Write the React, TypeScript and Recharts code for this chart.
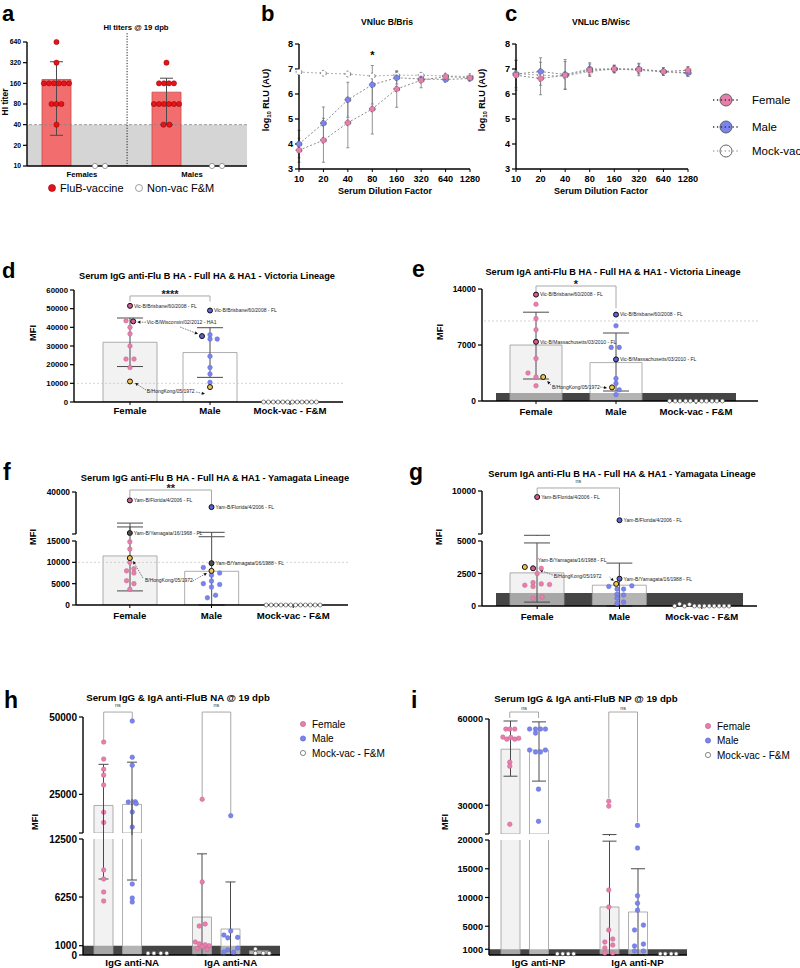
import React from 'react';
import {
  ComposedChart, Bar, Line, Scatter, XAxis, YAxis, ErrorBar,
  ReferenceLine, ReferenceArea, ReferenceDot, Cell,
} from 'recharts';

const FONT = '"Liberation Sans", Arial, Helvetica, sans-serif';
const PINK = '#e67fab';
const PINK_EDGE = '#c8628f';
const PINK_HI = '#d65a95';
const BLUE = '#7b84ec';
const BLUE_EDGE = '#5f68d6';
const BLUE_HI = '#5a62d6';
const YELLOW = '#f4c54a';
const DARK = '#505050';
const RED = '#e5141b';

// ---------------- panel a: HI titers ----------------
const aGroups = ['Females', 'Males'];
const aMeans = [182, 119];
const aErr = [[154, 148], [79, 71]];
const aFemaleTiters = [640, 320, 160, 160, 160, 160, 160, 160, 80, 80, 80, 40];
const aFemaleSpread = [0, 0, -0.114, -0.068, -0.023, 0.023, 0.068, 0.114, -0.045, 0, 0.045, 0];
const aMaleTiters = [320, 160, 160, 160, 160, 80, 80, 80, 80, 80, 80, 40, 40];
const aMaleSpread = [0, -0.068, -0.023, 0.023, 0.068, -0.114, -0.068, -0.023, 0.023, 0.068, 0.114, -0.027, 0.027];
const aNonVacTiters = [10, 10, 10, 10];
const aNonVacX = [0.618, 0.709, 1.682, 1.773];
const aTicks = [10, 20, 40, 80, 160, 320, 640];

// ---------------- panels b, c: neutralisation ----------------
const dilutions = ['10', '20', '40', '80', '160', '320', '640', '1280'];
const bFemale = [3.75, 4.15, 4.85, 5.4, 6.2, 6.55, 6.7, 6.65];
const bFemaleSD = [0.48, 0.88, 1.0, 1.0, 0.73, 0.3, 0.08, 0.08];
const bMale = [4.0, 4.83, 5.77, 6.37, 6.65, 6.6, 6.58, 6.62];
const bMaleSD = [0.55, 0.65, 0.7, 0.77, 0.25, 0.12, 0.06, 0.06];
const bMock = [6.88, 6.83, 6.8, 6.72, 6.75, 6.75, 6.72, 6.7];
const bMockSD = [0.04, 0.04, 0.04, 0.05, 0.1, 0.05, 0.05, 0.05];
const cFemale = [6.75, 6.62, 6.75, 6.95, 7.0, 6.98, 6.9, 6.95];
const cFemaleSD = [0.6, 0.65, 0.55, 0.25, 0.15, 0.25, 0.15, 0.15];
const cMale = [6.8, 6.9, 6.78, 7.0, 7.0, 7.0, 6.9, 6.85];
const cMaleSD = [0.55, 0.55, 0.6, 0.25, 0.15, 0.2, 0.15, 0.15];
const cMock = [6.82, 6.75, 6.72, 6.9, 7.0, 6.95, 6.88, 6.83];
const cMockSD = [0.1, 0.1, 0.1, 0.1, 0.1, 0.1, 0.1, 0.1];

// ---------------- panels d-g: HA MFI ----------------
const mfiCats = ['Female', 'Male', 'Mock-vac - F&M'];
const mock12 = [0, 0, 0, 0, 0, 0, 0, 0, 0, 0, 0, 0];
const mock12Spread = [-0.33, -0.27, -0.21, -0.15, -0.09, -0.03, 0.03, 0.09, 0.15, 0.21, 0.27, 0.33];
const mock11 = [0, 0, 0, 0, 0, 0, 0, 0, 0, 0, 0];
const mock11Spread = [-0.33, -0.26, -0.2, -0.13, -0.07, 0, 0.07, 0.13, 0.2, 0.26, 0.33];

const dMeans = [32000, 26500, null];
const dErr = [[13000, 13000], [13300, 13300], null];
const dFemale = [43500, 40000, 36500, 30000, 23000, 23000, 18500];
const dFemaleSpread = [-0.05, 0, 0, 0, -0.05, 0.05, 0];
const dMale = [36000, 33700, 33700, 24500, 18500, 15000, 10500];
const dMaleSpread = [0, 0, 0.09, 0, 0, 0, 0];
const dFemaleMarked = [51500, 43200];
const dFemaleMarkedSpread = [0, 0.04];
const dMaleMarked = [49000, 35300];
const dMaleMarkedSpread = [0, -0.1];
const dMarkedLabels = ['Vic-B/Brisbane/60/2008 - FL', ''];
const dHongKong = [11000, 8000];

const eMeans = [7000, 4800, null];
const eErr = [[4250, 4100], [3550, 3700], null];
const eFemale = [12100, 10300, 8900, 5300, 3500, 3000, 1900];
const eFemaleSpread = [0, 0, 0, 0, -0.1, 0, 0];
const eMale = [9400, 6700, 6700, 2800, 2200, 1400, 800];
const eMaleSpread = [0, -0.06, 0.04, 0, 0, 0.04, 0];
const eFemaleMarked = [13300, 7400];
const eMaleMarked = [10800, 5200];
const eMarkedLabels = ['Vic-B/Brisbane/60/2008 - FL', 'Vic-B/Massachusetts/03/2010 - FL'];
const eHongKong = [3000, 1700];
const eHongKongSpread = [0.09, -0.05];

const fMeans = [11500, 7900, null];
const fErr = [[8200, 7700], [7900, 8100], null];
const fFemale = [14800, 13100, 10000, 8500, 8000, 7500, 5700, 5000, 3700];
const fFemaleSpread = [0, 0, 0, 0.05, -0.04, 0.05, -0.04, 0.05, 0];
const fMale = [8800, 7500, 7000, 5600, 5000, 4800, 4200, 2300, 1700];
const fMaleSpread = [-0.1, 0.1, 0, 0, -0.1, 0.1, 0, 0.05, -0.05];
const fFlorida = [35000, 31000];
const fYamagata = [15600, 9800];
const fFloridaLabel = 'Yam-B/Florida/4/2006 - FL';
const fYamagataLabels = ['Yam-B/Yamagata/16/1968 - FL', 'Yam-B/Yamagata/16/1988 - FL'];
const fHongKong = [11000, 8000];

const gMeans = [2550, 1600, null];
const gErr = [[2250, 2300], [1600, 1700], null];
const gFemale = [2900, 2500, 1800, 1700, 1650, 1600, 1500, 700, 600];
const gFemaleSpread = [0.05, 0, -0.05, 0.05, 0.15, -0.15, -0.05, 0.06, -0.05];
const gMale = [1500, 1550, 1300, 1300, 900, 850, 600, 300, 200];
const gMaleSpread = [-0.13, 0.15, -0.03, 0.05, -0.03, 0.05, -0.03, 0.05, -0.03];
const gFlorida = [9300, 6600];
const gYamagata = [2900, 2100];
const gYamagataSpread = [-0.05, 0];
const gHongKong = [3000, 1700];
const gHongKongSpread = [-0.15, -0.04];
const gMock = [0, 150, 0, 120, 0, 0, 0, 0, 0, 0, 0, 0];

// ---------------- panels h, i: NA / NP ----------------
const hCats = ['IgG anti-NA', 'IgA anti-NA'];
const hFemaleMeans = [21400, 4090];
const hFemaleErr = [[13210, 13300], [4090, 6810]];
const hMaleMeans = [21750, 2800];
const hMaleErr = [[13670, 13650], [2800, 5070]];
const hMockMeans = [null, 450];
const hIgGFemale = [41900, 36400, 33100, 31200, 28000, 19200, 15900, 9160, 8190, 6790, 5820];
const hIgGMale = [48700, 37000, 34400, 22500, 22600, 22000, 19300, 14400, 7650, 6140, 5710];
const hIgGMaleSpread = [0, 0, 0, -0.04, 0.03, 0.04, 0, 0, 0, 0, 0];
const hIgAFemale = [23400, 7870, 3340, 3120, 1400, 1200, 1100, 1000, 900, 700, 600];
const hIgAFemaleSpread = [0, 0, 0.03, -0.03, -0.07, -0.03, 0.03, 0.07, 0, -0.05, 0.05];
const hIgAMale = [18100, 2590, 2150, 1900, 1850, 750, 540, 320, 300];
const hIgAMaleSpread = [0, 0, -0.07, 0.07, -0.03, 0.07, -0.03, -0.07, 0.03];
const hMockIgG = [200, 200, 200, 200];
const hMockIgGSpread = [-0.13, -0.07, 0, 0.06];
const hMockIgA = [650, 200, 200, 200];
const hMockIgASpread = [-0.04, -0.04, 0.04, 0.1];

const iCats = ['IgG anti-NP', 'IgA anti-NP'];
const iFemaleMeans = [49500, 8350];
const iFemaleErr = [[9400, 9800], [8350, 11450]];
const iMaleMeans = [49200, 7480];
const iMaleErr = [[10800, 9800], [7480, 7520]];
const iIgGFemale = [56500, 56500, 56500, 53700, 53000, 53600, 53000, 53300, 45000, 43600, 23400];
const iIgGFemaleSpread = [-0.04, 0, 0.05, -0.07, -0.03, 0.01, 0.05, 0.09, 0, 0, 0];
const iIgGMale = [56500, 56500, 56500, 56500, 55100, 49200, 48500, 48500, 49200, 35600, 24400];
const iIgGMaleSpread = [-0.09, -0.03, 0.02, 0.07, -0.03, -0.09, -0.03, 0.02, 0.07, 0, 0];
const iIgAFemale = [31400, 29700, 11300, 8350, 4350, 2780, 2260, 1740, 1220, 350, 350];
const iIgAFemaleSpread = [0, 0, 0, 0, 0, 0.04, -0.04, 0.04, -0.04, -0.04, 0.04];
const iIgAMale = [23000, 18600, 10300, 9000, 7800, 5200, 4350, 1900, 1570, 700, 700];
const iIgAMaleSpread = [0, 0, 0, 0, 0, 0.06, -0.03, 0.06, -0.03, -0.03, 0.06];
const iMock = [200, 200, 200, 200];
const iMockIgGSpread = [-0.1, -0.045, 0.01, 0.065];
const iMockIgASpread = [-0.06, -0.01, 0.05, 0.1];

// ---------------- annotations (data coordinates) ----------------
type LineDef = { p: number[]; stroke: string; dash?: string; w?: number; head?: boolean };
type Note = { x: number; y: number; text: string; size: number; bold?: boolean; anchor?: 'start' | 'middle' | 'end'; fill?: string };

const BR = '#a8a8a8';
const AR = '#333';
const dLines: LineDef[] = [
  { p: [0.5, 56800, 1.5, 56800], stroke: BR },
  { p: [0.5, 56800, 0.5, 53800], stroke: BR },
  { p: [1.5, 56800, 1.5, 53800], stroke: BR },
  { p: [0.7, 42700, 0.59, 42860], stroke: AR, head: true },
  { p: [1.125, 40180, 1.35, 36430], stroke: AR, head: true },
  { p: [0.7, 6430, 0.5625, 10180], stroke: AR, head: true },
  { p: [1.325, 5360, 1.4375, 4290], stroke: AR, head: true },
];
const dNotes: Note[] = [
  { x: 1.0, y: 55900, text: '****', size: 11, bold: true, anchor: 'middle' },
  { x: 0.71, y: 41800, text: 'Vic-B/Wisconsin/02/2012 - HA1', size: 5 },
  { x: 0.71, y: 4820, text: 'B/HongKong/05/1972', size: 5 },
];
const eLines: LineDef[] = [
  { p: [0.5, 14375, 1.5, 14375], stroke: BR },
  { p: [0.5, 14375, 0.5, 13600], stroke: BR },
  { p: [1.5, 14375, 1.5, 11600], stroke: BR },
  { p: [0.6875, 2000, 0.64, 2500], stroke: AR, head: true },
  { p: [1.3, 1750, 1.39, 1640], stroke: AR, head: true },
];
const eNotes: Note[] = [
  { x: 1.0, y: 14175, text: '*', size: 11, bold: true, anchor: 'middle' },
  { x: 0.7, y: 1500, text: 'B/HongKong/05/1972', size: 5 },
];
const fLines: LineDef[] = [
  { p: [0.5, 41190, 1.5, 41190], stroke: BR },
  { p: [0.5, 41190, 0.5, 37000], stroke: BR },
  { p: [1.5, 41190, 1.5, 32260], stroke: BR },
  { p: [0.66, 6330, 0.54, 10310], stroke: AR, head: true },
  { p: [1.27, 5630, 1.445, 7500], stroke: AR, head: true },
];
const fNotes: Note[] = [
  { x: 1.0, y: 40240, text: '**', size: 11, bold: true, anchor: 'middle' },
  { x: 0.685, y: 5390, text: 'B/HongKong/05/1972', size: 5 },
];
const gLines: LineDef[] = [
  { p: [0.5, 10350, 1.5, 10350], stroke: BR },
  { p: [0.5, 10350, 0.5, 9650], stroke: BR },
  { p: [1.5, 10350, 1.5, 7100], stroke: BR },
  { p: [0.69, 2380, 0.53, 2770], stroke: AR, head: true },
  { p: [1.38, 2230, 1.43, 1920], stroke: AR, head: true },
];
const gNotes: Note[] = [
  { x: 1.0, y: 10930, text: 'ns', size: 5.5, anchor: 'middle', fill: '#333' },
  { x: 0.51, y: 3380, text: 'Yam-B/Yamagata/16/1988 - FL', size: 5 },
  { x: 0.7, y: 2150, text: 'B/HongKong/05/1972', size: 5 },
];
const hLines: LineDef[] = [
  { p: [0.21, 51600, 0.5, 51600], stroke: BR },
  { p: [0.21, 51600, 0.21, 42560], stroke: BR },
  { p: [0.5, 51600, 0.5, 49030], stroke: BR },
  { p: [1.21, 51600, 1.5, 51600], stroke: BR },
  { p: [1.21, 51600, 1.21, 24140], stroke: BR },
  { p: [1.5, 51600, 1.5, 18320], stroke: BR },
];
const hNotes: Note[] = [
  { x: 0.355, y: 53230, text: 'ns', size: 5.5, anchor: 'middle', fill: '#333' },
  { x: 1.355, y: 53230, text: 'ns', size: 5.5, anchor: 'middle', fill: '#333' },
];
const iLines: LineDef[] = [
  { p: [0.21, 62430, 0.5, 62430], stroke: BR },
  { p: [0.21, 62430, 0.21, 60350], stroke: BR },
  { p: [0.5, 62430, 0.5, 60350], stroke: BR },
  { p: [1.21, 62430, 1.5, 62430], stroke: BR },
  { p: [1.21, 62430, 1.21, 32520], stroke: BR },
  { p: [1.5, 62430, 1.5, 24180], stroke: BR },
];
const iNotes: Note[] = [
  { x: 0.355, y: 63250, text: 'ns', size: 5.5, anchor: 'middle', fill: '#333' },
  { x: 1.355, y: 63250, text: 'ns', size: 5.5, anchor: 'middle', fill: '#333' },
];

// ---------------- helpers ----------------
type Pt = { x: number; y: number; label?: string };
type DotSet = { pts: Pt[]; fill: string; stroke: string; r: number; sw?: number };
type Seg = { y0: number; y1: number; domain: [number, number]; ticks: number[]; blank?: number[] };
type BarDef = { key: string; errKey: string; fill: string | string[]; stroke: string; opacity?: number };
type Area = { y1: number; y2: number; fill: string };
type Dash = { y: number; stroke: string; dash: string };

const at = (vals: number[], center: number, spread?: number[], labels?: string[]): Pt[] =>
  vals.map((v, i) => ({ x: center + (spread ? spread[i] : 0), y: v, label: labels && labels[i] ? labels[i] : undefined }));

const dotShape = (d: DotSet) => (q: any) => {
  const cx = q.cx;
  const cy = q.cy;
  if (cx == null || cy == null || isNaN(cx) || isNaN(cy)) return <g />;
  const lab = q.payload ? q.payload.label : undefined;
  return (
    <g>
      <circle cx={cx} cy={cy} r={d.r} fill={d.fill} stroke={d.stroke} strokeWidth={d.sw ?? 0.6} />
      {lab ? (
        <text x={cx + d.r + 1.5} y={cy + 1.8} fontSize={5} fontFamily={FONT} fill="#222">{lab}</text>
      ) : null}
    </g>
  );
};

const arrowShape = (q: any) => {
  const { x1, y1, x2, y2 } = q;
  if ([x1, y1, x2, y2].some((v) => v == null || isNaN(v))) return <g />;
  const ang = Math.atan2(y2 - y1, x2 - x1);
  const L = 3.2;
  const W = 1.6;
  const bx = x2 - L * Math.cos(ang);
  const by = y2 - L * Math.sin(ang);
  const px = -Math.sin(ang) * W;
  const py = Math.cos(ang) * W;
  return (
    <g>
      <line x1={x1} y1={y1} x2={bx} y2={by} stroke={AR} strokeWidth={0.6} strokeDasharray="1.6 1" />
      <polygon points={`${x2},${y2} ${bx + px},${by + py} ${bx - px},${by - py}`} fill="#111" />
    </g>
  );
};

interface PanelProps {
  x0: number; x1: number; padL: number; padR: number; segs: Seg[]; cats: string[]; rows: any[];
  bars: BarDef[]; barSize: number; barGap?: number; dots: DotSet[]; areas?: Area[]; dashes?: Dash[];
  lines?: LineDef[]; notes?: Note[]; scale?: 'linear' | 'log'; tickFont: number; catFont: number;
  errW: number; catMargin: number; catTicks: boolean;
}

function MfiPanel(p: PanelProps) {
  const n = p.cats.length;
  const segOf = (v: number) => {
    for (let i = 0; i < p.segs.length - 1; i++) if (v >= p.segs[i].domain[0]) return i;
    return p.segs.length - 1;
  };
  const ML = 4, YW = 50, MR = 120, MT = 40, MB = 2;
  const sc = p.scale ?? 'linear';
  return (
    <>
      {p.segs.map((s, si) => {
        const last = si === p.segs.length - 1;
        const xh = last ? 26 : 0;
        const W = p.x1 - p.x0 + YW + ML + MR;
        const H = s.y1 - s.y0 + MT + MB + xh;
        const inDom = (v: number) => v >= Math.min(s.domain[0], s.domain[1]) && v <= Math.max(s.domain[0], s.domain[1]);
        return (
          <div key={si} style={{ position: 'absolute', left: p.x0 - YW - ML, top: s.y0 - MT }}>
            <ComposedChart
              width={W}
              height={H}
              data={p.rows}
              margin={{ top: MT, right: MR, bottom: MB, left: ML }}
              barGap={p.barGap ?? 4}
              barSize={p.barSize}
            >
              <XAxis
                xAxisId="c" dataKey="cat" type="category" hide={!last} height={xh}
                padding={{ left: p.padL, right: p.padR }} interval={0} tickSize={3} tickMargin={p.catMargin}
                tickLine={p.catTicks ? { stroke: '#000', strokeWidth: 1 } : false}
                axisLine={{ stroke: '#000', strokeWidth: 1.4 }}
                tick={{ fontSize: p.catFont, fontWeight: 700, fill: '#000', fontFamily: FONT }}
              />
              <XAxis xAxisId="n" type="number" dataKey="x" domain={[0, n]} hide height={0} padding={{ left: p.padL, right: p.padR }} />
              <YAxis
                yAxisId="v" type="number" domain={s.domain} ticks={s.ticks} allowDataOverflow scale={sc}
                width={YW} interval={0} tickSize={4} tickMargin={2}
                tickFormatter={(v: number) => (s.blank && s.blank.includes(v) ? '' : String(v))}
                axisLine={{ stroke: '#000', strokeWidth: 1.4 }} tickLine={{ stroke: '#000', strokeWidth: 1.2 }}
                tick={{ fontSize: p.tickFont, fontWeight: 700, fill: '#000', fontFamily: FONT }}
              />
              <YAxis yAxisId="s" type="number" orientation="right" width={0} domain={s.domain} hide scale={sc} />
              {(p.areas || []).map((a, ai) => (
                <ReferenceArea key={'ar' + ai} xAxisId="n" yAxisId="s" y1={a.y1} y2={a.y2} fill={a.fill} fillOpacity={1} stroke="none" ifOverflow="hidden" />
              ))}
              {(p.dashes || []).filter((d) => inDom(d.y)).map((d, di) => (
                <ReferenceLine key={'ds' + di} xAxisId="n" yAxisId="s" y={d.y} stroke={d.stroke} strokeDasharray={d.dash} strokeWidth={0.8} />
              ))}
              {p.bars.map((b) => (
                <Bar
                  key={b.key} xAxisId="c" yAxisId="v" dataKey={b.key}
                  fill={Array.isArray(b.fill) ? b.fill[0] : b.fill}
                  fillOpacity={b.opacity ?? 1} stroke={b.stroke} strokeWidth={0.8}
                  isAnimationActive={false}
                >
                  {p.rows.map((r, ri) => {
                    const v = r[b.key];
                    const off = !last && (v == null || v <= s.domain[0]);
                    const fill = Array.isArray(b.fill) ? b.fill[ri] : b.fill;
                    return <Cell key={ri} fill={off ? 'none' : fill} stroke={off ? 'none' : b.stroke} />;
                  })}
                  <ErrorBar dataKey={b.errKey} width={p.errW} stroke="#4a4a4a" strokeWidth={1} direction="y" />
                </Bar>
              ))}
              {p.dots.map((d, di) => {
                const data = d.pts.filter((pt) => segOf(pt.y) === si);
                if (!data.length) return null;
                return (
                  <Scatter key={'sc' + di} xAxisId="n" yAxisId="s" data={data} dataKey="y" isAnimationActive={false} shape={dotShape(d)} />
                );
              })}
              {(p.lines || []).filter((l) => segOf(l.p[1]) === si).map((l, li) => (
                <ReferenceLine
                  key={'ln' + li} xAxisId="n" yAxisId="s" ifOverflow="visible"
                  segment={[{ x: l.p[0], y: l.p[1] }, { x: l.p[2], y: l.p[3] }]}
                  stroke={l.stroke} strokeWidth={l.w ?? 1} strokeDasharray={l.dash}
                  shape={l.head ? arrowShape : undefined}
                />
              ))}
              {(p.notes || []).filter((t) => segOf(t.y) === si).map((t, ti) => (
                <ReferenceDot
                  key={'nt' + ti} xAxisId="n" yAxisId="s" x={t.x} y={t.y} r={0} ifOverflow="visible"
                  shape={(q: any) => (
                    <text x={q.cx} y={q.cy} fontSize={t.size} fontWeight={t.bold ? 700 : 400} textAnchor={t.anchor ?? 'start'} fontFamily={FONT} fill={t.fill ?? '#222'}>
                      {t.text}
                    </text>
                  )}
                />
              ))}
            </ComposedChart>
          </div>
        );
      })}
    </>
  );
}

function NeutPanel(props: { x0: number; x1: number; y0: number; y1: number; rows: any[]; star?: { x: string; y: number } }) {
  const { x0, x1, y0, y1, rows, star } = props;
  const ML = 4, YW = 50, MR = 10, MT = 30, MB = 2, XH = 26;
  const tick = { fontSize: 9.2, fontWeight: 700, fill: '#000', fontFamily: FONT };
  const mk = (fill: string) => ({ r: 2.9, fill, stroke: '#555', strokeWidth: 0.8 });
  return (
    <div style={{ position: 'absolute', left: x0 - YW - ML, top: y0 - MT }}>
      <ComposedChart width={x1 - x0 + YW + ML + MR} height={y1 - y0 + MT + MB + XH} data={rows} margin={{ top: MT, right: MR, bottom: MB, left: ML }}>
        <XAxis dataKey="cat" type="category" interval={0} height={XH} tickSize={3} tickMargin={3} tick={tick} axisLine={{ stroke: '#000', strokeWidth: 1.4 }} tickLine={{ stroke: '#000' }} />
        <YAxis type="number" domain={[3, 8]} ticks={[3, 4, 5, 6, 7, 8]} width={YW} interval={0} tickSize={4} tickMargin={2} tick={tick} axisLine={{ stroke: '#000', strokeWidth: 1.4 }} tickLine={{ stroke: '#000', strokeWidth: 1.2 }} />
        <Line dataKey="k" stroke="#b0b0b0" strokeDasharray="2 2" strokeWidth={1} dot={mk('#ffffff')} activeDot={false} isAnimationActive={false}>
          <ErrorBar dataKey="ke" width={1.5} stroke="#999" strokeWidth={0.8} direction="y" />
        </Line>
        <Line dataKey="m" stroke="#8a8a8a" strokeDasharray="2 2" strokeWidth={1} dot={mk(BLUE)} activeDot={false} isAnimationActive={false}>
          <ErrorBar dataKey="me" width={1.5} stroke="#777" strokeWidth={0.8} direction="y" />
        </Line>
        <Line dataKey="f" stroke="#8a8a8a" strokeDasharray="2 2" strokeWidth={1} dot={mk(PINK)} activeDot={false} isAnimationActive={false}>
          <ErrorBar dataKey="fe" width={1.5} stroke="#777" strokeWidth={0.8} direction="y" />
        </Line>
        {star ? (
          <ReferenceDot
            x={star.x} y={star.y} r={0} ifOverflow="visible"
            shape={(q: any) => (
              <text x={q.cx} y={q.cy} textAnchor="middle" fontSize={11} fontWeight={700} fontFamily={FONT}>*</text>
            )}
          />
        ) : null}
      </ComposedChart>
    </div>
  );
}

// ---------------- overlay text (titles, letters, labels, legends) ----------------
const Tx = (p: { x: number; y: number; s: number; b?: boolean; a?: 'start' | 'middle' | 'end'; rot?: boolean; children: React.ReactNode; fill?: string }) => (
  <text
    x={p.x} y={p.y} fontSize={p.s} fontWeight={p.b ? 700 : 400} textAnchor={p.a ?? 'start'} fontFamily={FONT}
    fill={p.fill ?? '#000'} transform={p.rot ? `rotate(-90 ${p.x} ${p.y})` : undefined}
  >
    {p.children}
  </text>
);

function Overlay() {
  const letters: [string, number, number, number][] = [
    ['a', 2, 21, 22], ['b', 261, 21, 22], ['c', 505, 21, 22], ['d', 2, 278, 22], ['e', 412, 277, 23],
    ['f', 3, 480, 23], ['g', 409, 480, 23], ['h', 4, 708, 23], ['i', 411, 708, 23],
  ];
  const nLegend: [string, string, number][] = [['Female', PINK, 100], ['Male', BLUE, 127], ['Mock-vac', '#ffffff', 151]];
  const mLegend: [string, string, string][] = [['Female', PINK, PINK_EDGE], ['Male', BLUE, BLUE_EDGE], ['Mock-vac - F&M', '#ffffff', '#555']];
  return (
    <svg width={800} height={968} style={{ position: 'absolute', left: 0, top: 0 }}>
      {letters.map(([t, x, y, s]) => (
        <Tx key={t} x={x} y={y} s={s} b>{t}</Tx>
      ))}
      <Tx x={136} y={29.5} s={7.7} b a="middle">HI titers @ 19 dpb</Tx>
      <Tx x={387} y={25} s={8.6} b a="middle">VNluc B/Bris</Tx>
      <Tx x={601} y={25} s={8.6} b a="middle">VNLuc B/Wisc</Tx>
      <Tx x={207} y={279} s={9.2} b a="middle">Serum IgG anti-Flu B HA - Full HA &amp; HA1 - Victoria Lineage</Tx>
      <Tx x={613} y={275} s={9.2} b a="middle">Serum IgA anti-Flu B HA - Full HA &amp; HA1 - Victoria Lineage</Tx>
      <Tx x={215} y={480.5} s={9.3} b a="middle">Serum IgG anti-Flu B HA - Full HA &amp; HA1 - Yamagata Lineage</Tx>
      <Tx x={622} y={476.5} s={9.3} b a="middle">Serum IgA anti-Flu B HA - Full HA &amp; HA1 - Yamagata Lineage</Tx>
      <Tx x={178} y={701} s={9.7} b a="middle">Serum IgG &amp; IgA anti-FluB NA @ 19 dpb</Tx>
      <Tx x={586} y={702} s={9.7} b a="middle">Serum IgG &amp; IgA anti-FluB NP @ 19 dpb</Tx>

      <Tx x={8} y={102} s={8.5} b a="middle" rot>HI titer</Tx>
      {[269, 485].map((x) => (
        <text key={x} x={x} y={100} fontSize={9} fontWeight={700} textAnchor="middle" fontFamily={FONT} transform={`rotate(-90 ${x} 100)`}>
          log<tspan fontSize={6} dy={2}>10</tspan><tspan dy={-2}> RLU (AU)</tspan>
        </text>
      ))}
      <Tx x={385} y={194} s={9} b a="middle">Serum Dilution Factor</Tx>
      <Tx x={601} y={194} s={9} b a="middle">Serum Dilution Factor</Tx>
      {([[36, 333], [443, 332], [36, 537], [442, 537], [38, 822], [448, 822]] as [number, number][]).map(([x, y]) => (
        <Tx key={x + '-' + y} x={x} y={y} s={9.3} b a="middle" rot>MFI</Tx>
      ))}

      {/* legend a */}
      <circle cx={52} cy={188} r={3.5} fill={RED} stroke="#8a0000" strokeWidth={0.6} />
      <Tx x={60} y={192} s={11}>FluB-vaccine</Tx>
      <circle cx={139} cy={188} r={3.5} fill="#fff" stroke="#888" strokeWidth={0.8} />
      <Tx x={147} y={192} s={11}>Non-vac F&amp;M</Tx>

      {/* legend b/c */}
      {nLegend.map(([t, fill, y]) => (
        <g key={t}>
          <circle cx={726} cy={y} r={6} fill={fill} stroke="#555" strokeWidth={0.9} />
          <line x1={713} y1={y} x2={740} y2={y} stroke={fill === '#ffffff' ? '#aaa' : '#333'} strokeWidth={1.3} strokeDasharray="1.3 2.6" />
          <Tx x={752} y={y + 4} s={11.5}>{t}</Tx>
        </g>
      ))}

      {/* legends h, i */}
      {mLegend.map(([t, fill, st], k) => (
        <g key={'h' + t}>
          <circle cx={303} cy={724 + k * 14.5} r={2.6} fill={fill} stroke={st} strokeWidth={0.7} />
          <Tx x={312} y={727.5 + k * 14.5} s={10}>{t}</Tx>
          <circle cx={708} cy={726 + k * 14.5} r={2.6} fill={fill} stroke={st} strokeWidth={0.7} />
          <Tx x={717} y={729.5 + k * 14.5} s={10}>{t}</Tx>
        </g>
      ))}
    </svg>
  );
}

// ---------------- assemble ----------------
const pinkSet = (pts: Pt[]): DotSet => ({ pts, fill: PINK, stroke: PINK_EDGE, r: 2.3, sw: 0.5 });
const blueSet = (pts: Pt[]): DotSet => ({ pts, fill: BLUE, stroke: BLUE_EDGE, r: 2.3, sw: 0.5 });
const mockSet = (pts: Pt[]): DotSet => ({ pts, fill: '#ffffff', stroke: '#555', r: 2, sw: 0.7 });
const hiSet = (pts: Pt[], fill: string): DotSet => ({ pts, fill, stroke: '#111', r: 2.5, sw: 1 });

const mfiBar: BarDef[] = [{ key: 'mean', errKey: 'err', fill: ['#e9e9e9', '#ffffff', '#ffffff'], stroke: '#9b9b9b', opacity: 0.6 }];
const mfiRows = (means: (number | null)[], err: (number[] | null)[]) => mfiCats.map((c, i) => ({ cat: c, mean: means[i], err: err[i] }));

export default function App() {
  const bRows = dilutions.map((d, i) => ({ cat: d, f: bFemale[i], fe: bFemaleSD[i], m: bMale[i], me: bMaleSD[i], k: bMock[i], ke: bMockSD[i] }));
  const cRows = dilutions.map((d, i) => ({ cat: d, f: cFemale[i], fe: cFemaleSD[i], m: cMale[i], me: cMaleSD[i], k: cMock[i], ke: cMockSD[i] }));
  const aRows = aGroups.map((g, i) => ({ cat: g, vac: aMeans[i], vacErr: aErr[i], non: null, nonErr: null }));
  const hRows = hCats.map((c, i) => ({ cat: c, f: hFemaleMeans[i], fe: hFemaleErr[i], m: hMaleMeans[i], me: hMaleErr[i], k: hMockMeans[i], ke: null }));
  const iRows = iCats.map((c, i) => ({ cat: c, f: iFemaleMeans[i], fe: iFemaleErr[i], m: iMaleMeans[i], me: iMaleErr[i], k: null, ke: null }));
  const nbars: BarDef[] = [
    { key: 'f', errKey: 'fe', fill: '#e9e9e9', stroke: '#9b9b9b', opacity: 0.6 },
    { key: 'm', errKey: 'me', fill: '#ffffff', stroke: '#9b9b9b', opacity: 0.6 },
    { key: 'k', errKey: 'ke', fill: '#ffffff', stroke: '#9b9b9b', opacity: 0.6 },
  ];
  const F = -0.29; // female sub-column offset inside a group (h, i)
  const K = 0.29; // mock sub-column offset (h, i)

  return (
    <div style={{ position: 'absolute', left: 0, top: 0, width: 800, height: 968, overflow: 'hidden', background: '#fff' }}>
      <Overlay />

      {/* a */}
      <MfiPanel
        x0={27} x1={247} padL={0} padR={0} cats={aGroups} rows={aRows}
        segs={[{ y0: 42, y1: 166, domain: [10, 640], ticks: aTicks }]} scale="log"
        bars={[
          { key: 'vac', errKey: 'vacErr', fill: '#f26e6e', stroke: '#c94a4a' },
          { key: 'non', errKey: 'nonErr', fill: '#ffffff', stroke: 'none' },
        ]}
        barSize={29} barGap={22}
        dots={[
          { pts: at(aFemaleTiters, 0.268, aFemaleSpread), fill: RED, stroke: '#8a0000', r: 2.6, sw: 0.5 },
          { pts: at(aMaleTiters, 1.268, aMaleSpread), fill: RED, stroke: '#8a0000', r: 2.6, sw: 0.5 },
          { pts: aNonVacTiters.map((v, i) => ({ x: aNonVacX[i], y: v })), fill: '#fff', stroke: '#888', r: 2.6, sw: 0.8 },
        ]}
        areas={[{ y1: 10, y2: 40, fill: '#d5d5d5' }]}
        dashes={[{ y: 40, stroke: '#888', dash: '3 2' }]}
        lines={[{ p: [0.91, 860, 0.91, 10], stroke: '#222', dash: '1.2 1.5', w: 1 }]}
        tickFont={6.8} catFont={7.7} errW={6.5} catMargin={3} catTicks={false}
      />

      {/* b, c */}
      <NeutPanel x0={299} x1={470} y0={44} y1={169} rows={bRows} star={{ x: '80', y: 7.39 }} />
      <NeutPanel x0={516} x1={688} y0={44} y1={169} rows={cRows} />

      {/* d */}
      <MfiPanel
        x0={74} x1={343} padL={16} padR={13} cats={mfiCats} rows={mfiRows(dMeans, dErr)}
        segs={[{ y0: 290, y1: 402, domain: [0, 60000], ticks: [0, 10000, 20000, 30000, 40000, 50000, 60000] }]}
        bars={mfiBar} barSize={54}
        dots={[
          pinkSet(at(dFemale, 0.5, dFemaleSpread)),
          blueSet(at(dMale, 1.5, dMaleSpread)),
          mockSet(at(mock12, 2.5, mock12Spread)),
          hiSet(at(dFemaleMarked, 0.5, dFemaleMarkedSpread, dMarkedLabels), PINK_HI),
          hiSet(at(dMaleMarked, 1.5, dMaleMarkedSpread, dMarkedLabels), BLUE_HI),
          hiSet([{ x: 0.5, y: dHongKong[0] }, { x: 1.5, y: dHongKong[1] }], YELLOW),
        ]}
        dashes={[{ y: 10000, stroke: '#c8c8c8', dash: '2 2' }]}
        lines={dLines} notes={dNotes}
        tickFont={7.8} catFont={9.6} errW={13} catMargin={2} catTicks
      />

      {/* e */}
      <MfiPanel
        x0={482} x1={758} padL={14} padR={22} cats={mfiCats} rows={mfiRows(eMeans, eErr)}
        segs={[{ y0: 289, y1: 401, domain: [0, 14000], ticks: [0, 7000, 14000] }]}
        bars={mfiBar} barSize={52}
        dots={[
          pinkSet(at(eFemale, 0.5, eFemaleSpread)),
          blueSet(at(eMale, 1.5, eMaleSpread)),
          mockSet(at(mock11, 2.5, mock11Spread)),
          hiSet(at(eFemaleMarked, 0.5, undefined, eMarkedLabels), PINK_HI),
          hiSet(at(eMaleMarked, 1.5, undefined, eMarkedLabels), BLUE_HI),
          hiSet([{ x: 0.5 + eHongKongSpread[0], y: eHongKong[0] }, { x: 1.5 + eHongKongSpread[1], y: eHongKong[1] }], YELLOW),
        ]}
        areas={[{ y1: 0, y2: 1000, fill: '#454545' }]}
        dashes={[{ y: 10000, stroke: '#c8c8c8', dash: '2 2' }]}
        lines={eLines} notes={eNotes}
        tickFont={8.4} catFont={9.6} errW={13} catMargin={4} catTicks
      />

      {/* f */}
      <MfiPanel
        x0={76} x1={348} padL={13} padR={14} cats={mfiCats} rows={mfiRows(fMeans, fErr)}
        segs={[
          { y0: 492, y1: 534, domain: [15000, 40000], ticks: [15000, 40000], blank: [15000] },
          { y0: 541, y1: 605, domain: [0, 15000], ticks: [0, 5000, 10000, 15000] },
        ]}
        bars={mfiBar} barSize={54}
        dots={[
          pinkSet(at(fFemale, 0.5, fFemaleSpread)),
          blueSet(at(fMale, 1.5, fMaleSpread)),
          mockSet(at(mock12, 2.5, mock12Spread)),
          hiSet([{ x: 0.5, y: fFlorida[0], label: fFloridaLabel }], PINK_HI),
          hiSet([{ x: 1.5, y: fFlorida[1], label: fFloridaLabel }], BLUE_HI),
          hiSet(at(fYamagata, 0.5, [0, 1], fYamagataLabels), DARK),
          hiSet([{ x: 0.5, y: fHongKong[0] }, { x: 1.5, y: fHongKong[1] }], YELLOW),
        ]}
        dashes={[{ y: 10000, stroke: '#c8c8c8', dash: '2 2' }]}
        lines={fLines} notes={fNotes}
        tickFont={8.4} catFont={9.6} errW={13} catMargin={4} catTicks
      />

      {/* g */}
      <MfiPanel
        x0={482} x1={757} padL={14} padR={14} cats={mfiCats} rows={mfiRows(gMeans, gErr)}
        segs={[
          { y0: 491, y1: 534, domain: [5000, 10000], ticks: [5000, 10000], blank: [5000] },
          { y0: 541, y1: 606, domain: [0, 5000], ticks: [0, 2500, 5000] },
        ]}
        bars={mfiBar} barSize={54}
        dots={[
          pinkSet(at(gFemale, 0.5, gFemaleSpread)),
          blueSet(at(gMale, 1.5, gMaleSpread)),
          mockSet(at(gMock, 2.5, mock12Spread)),
          hiSet([{ x: 0.5, y: gFlorida[0], label: fFloridaLabel }, { x: 0.5 + gYamagataSpread[0], y: gYamagata[0] }], PINK_HI),
          hiSet([{ x: 1.5, y: gFlorida[1], label: fFloridaLabel }, { x: 1.5 + gYamagataSpread[1], y: gYamagata[1], label: fYamagataLabels[1] }], BLUE_HI),
          hiSet([{ x: 0.5 + gHongKongSpread[0], y: gHongKong[0] }, { x: 1.5 + gHongKongSpread[1], y: gHongKong[1] }], YELLOW),
        ]}
        areas={[{ y1: 0, y2: 1000, fill: '#454545' }]}
        lines={gLines} notes={gNotes}
        tickFont={8.6} catFont={9.6} errW={13} catMargin={4} catTicks
      />

      {/* h */}
      <MfiPanel
        x0={83} x1={280} padL={0} padR={0} cats={hCats} rows={hRows}
        segs={[
          { y0: 717, y1: 833, domain: [12500, 50000], ticks: [12500, 25000, 50000], blank: [12500] },
          { y0: 839, y1: 955, domain: [0, 12500], ticks: [0, 1000, 6250, 12500] },
        ]}
        bars={nbars} barSize={19} barGap={9.5}
        dots={[
          pinkSet(at(hIgGFemale, 0.5 + F)),
          pinkSet(at(hIgAFemale, 1.5 + F, hIgAFemaleSpread)),
          blueSet(at(hIgGMale, 0.5, hIgGMaleSpread)),
          blueSet(at(hIgAMale, 1.5, hIgAMaleSpread)),
          mockSet(at(hMockIgG, 0.5 + K, hMockIgGSpread)),
          mockSet(at(hMockIgA, 1.5 + K, hMockIgASpread)),
        ]}
        areas={[{ y1: 0, y2: 1000, fill: '#454545' }]}
        lines={hLines} notes={hNotes}
        tickFont={10} catFont={9.8} errW={5} catMargin={1} catTicks={false}
      />

      {/* i */}
      <MfiPanel
        x0={489} x1={687} padL={0} padR={0} cats={iCats} rows={iRows}
        segs={[
          { y0: 719, y1: 834, domain: [20000, 60000], ticks: [20000, 30000, 60000], blank: [20000] },
          { y0: 840, y1: 955, domain: [0, 20000], ticks: [1000, 5000, 10000, 15000, 20000] },
        ]}
        bars={nbars} barSize={19} barGap={9.5}
        dots={[
          pinkSet(at(iIgGFemale, 0.5 + F, iIgGFemaleSpread)),
          pinkSet(at(iIgAFemale, 1.5 + F, iIgAFemaleSpread)),
          blueSet(at(iIgGMale, 0.5, iIgGMaleSpread)),
          blueSet(at(iIgAMale, 1.5, iIgAMaleSpread)),
          mockSet(at(iMock, 0.5 + K, iMockIgGSpread)),
          mockSet(at(iMock, 1.5 + K, iMockIgASpread)),
        ]}
        areas={[{ y1: 0, y2: 1000, fill: '#454545' }]}
        lines={iLines} notes={iNotes}
        tickFont={9.2} catFont={9.8} errW={7} catMargin={1} catTicks={false}
      />
    </div>
  );
}
